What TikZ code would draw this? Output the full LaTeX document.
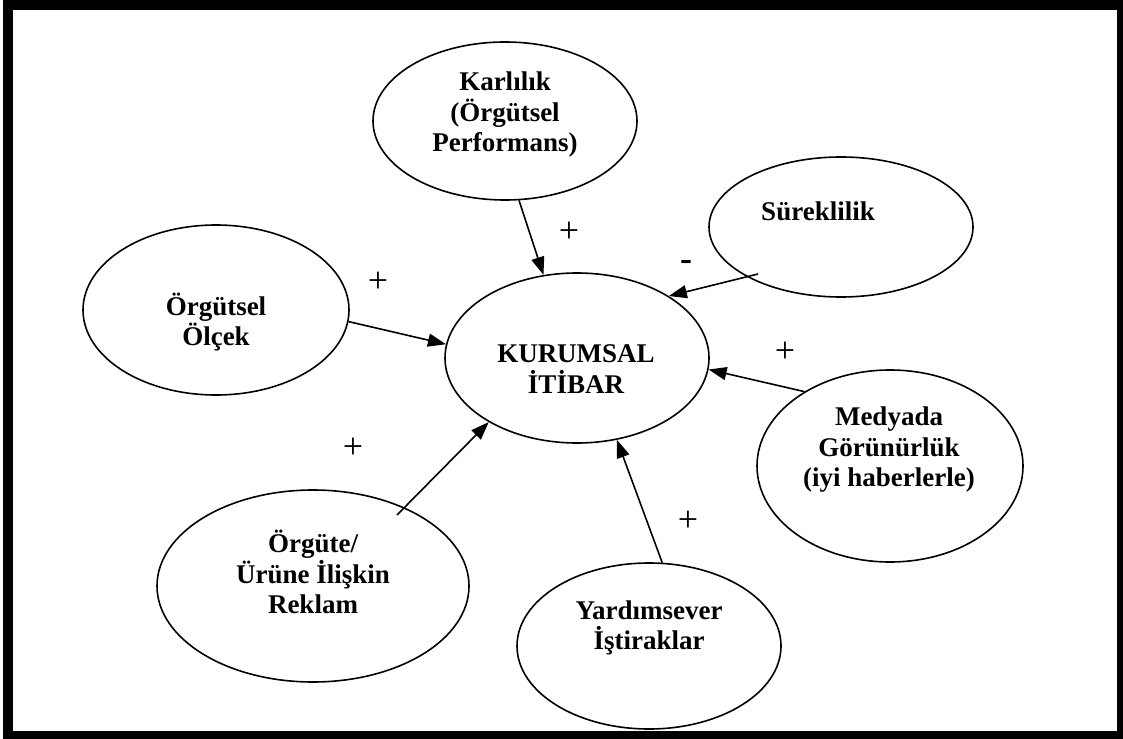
\documentclass[tikz,border=0pt]{standalone}
\usepackage{fontspec}
\setmainfont{Liberation Serif}
\usetikzlibrary{shapes.geometric,arrows.meta}
\begin{document}
\begin{tikzpicture}[x=1pt,y=-1pt,
  oval/.style={draw,ellipse,line width=1.6pt,inner sep=0pt},
  lbl/.style={font=\bfseries\fontsize{27}{30.5}\selectfont,align=center,inner sep=0pt},
  sign/.style={font=\fontsize{36}{36}\selectfont,inner sep=0pt},
  minussign/.style={font=\bfseries\fontsize{36}{36}\selectfont,inner sep=0pt,anchor=base},
  link/.style={line width=1.6pt,-{Triangle[length=18pt,width=13pt]}},
]
\useasboundingbox (0,0) rectangle (1123,738);
% heavy outer frame
\draw[line width=10pt] (8,5.5) rectangle (1122,736);

% ovals
\node[oval,minimum width=264pt,minimum height=170pt] (kur) at (577,358) {};
\node[oval,minimum width=264pt,minimum height=158pt] (kar) at (505,121) {};
\node[oval,minimum width=264pt,minimum height=140pt] (sur) at (841,227) {};
\node[oval,minimum width=266pt,minimum height=170pt] (olc) at (216,310) {};
\node[oval,minimum width=266pt,minimum height=192pt] (med) at (890,466) {};
\node[oval,minimum width=312pt,minimum height=192pt] (rek) at (313,586) {};
\node[oval,minimum width=264pt,minimum height=166pt] (yar) at (649,646) {};

% texts
\node[lbl] (kurtxt) at (576,369) {KURUMSAL\\İTİBAR};
\node[lbl] (kartxt) at (505,115) {Karlılık\\(Örgütsel\\Performans)};
\node[lbl] (surtxt) at (818,211) {Süreklilik};
\node[lbl] (olctxt) at (216,322) {Örgütsel\\Ölçek};
\node[lbl] (medtxt) at (889,450) {Medyada\\Görünürlük\\(iyi haberlerle)};
\node[lbl] (rektxt) at (313,572) {Örgüte/\\Ürüne İlişkin\\Reklam};
\node[lbl] (yartxt) at (649,628) {Yardımsever\\İştiraklar};

% connector feet lying inside their ovals
\coordinate (surfoot) at (758,274);
\coordinate (rekfoot) at (397,515);

% connectors
\draw[link] (kar.-80.9) -- (kur.112.4);
\draw[link] (surfoot) -- (kur.34.7);
\draw[link] (olc.-5.2) -- (kur.174.9);
\draw[link] (med.139.4) -- (kur.-5.6);
\draw[link] (rekfoot) -- (kur.-144);
\draw[link] (yar.81.8) -- (kur.-64.2);

% signs
\node[sign] (pkar) at (569,232) {+};
\node[minussign] (msur) at (686,270) {-};
\node[sign] (polc) at (378,282) {+};
\node[sign] (pmed) at (785,352) {+};
\node[sign] (prek) at (353,448) {+};
\node[sign] (pyar) at (688,521) {+};
\end{tikzpicture}
\end{document}
